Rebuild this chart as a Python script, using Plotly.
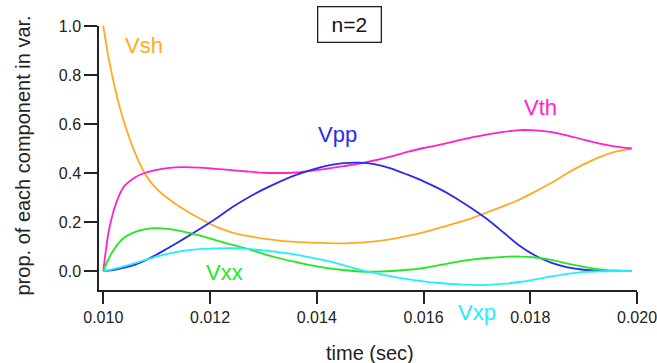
import plotly.graph_objects as go

time = [0.0100, 0.0101, 0.0102, 0.0103, 0.0104, 0.0106, 0.0108, 0.0110, 0.0112, 0.0115,
        0.0118, 0.0121, 0.0124, 0.0127, 0.0130, 0.0133, 0.0136, 0.0139, 0.0142, 0.0145,
        0.0148, 0.0151, 0.0154, 0.0157, 0.0160, 0.0163, 0.0166, 0.0169, 0.0172, 0.0175,
        0.0178, 0.0181, 0.0184, 0.0187, 0.0190, 0.0193, 0.0196, 0.0199]

Vsh = [1.00, 0.87, 0.765, 0.675, 0.60, 0.48, 0.39, 0.335, 0.298, 0.253,
       0.215, 0.182, 0.158, 0.143, 0.132, 0.124, 0.119, 0.116, 0.114, 0.113,
       0.116, 0.121, 0.13, 0.143, 0.158, 0.176, 0.195, 0.215, 0.24, 0.265,
       0.292, 0.325, 0.36, 0.40, 0.435, 0.465, 0.487, 0.50]

Vth = [0.0, 0.16, 0.25, 0.31, 0.348, 0.383, 0.402, 0.413, 0.42, 0.424,
       0.422, 0.417, 0.412, 0.406, 0.401, 0.40, 0.402, 0.409, 0.418, 0.428,
       0.438, 0.452, 0.468, 0.486, 0.502, 0.515, 0.53, 0.545, 0.558, 0.568,
       0.575, 0.574, 0.567, 0.553, 0.536, 0.52, 0.508, 0.50]

Vpp = [0.0, 0.002, 0.005, 0.009, 0.014, 0.026, 0.045, 0.067, 0.092, 0.13,
       0.17, 0.212, 0.258, 0.298, 0.333, 0.364, 0.391, 0.413, 0.43, 0.44,
       0.442, 0.435, 0.418, 0.393, 0.366, 0.335, 0.298, 0.256, 0.21, 0.157,
       0.103, 0.062, 0.033, 0.015, 0.005, 0.001, 0.0, 0.0]

Vxx = [0.0, 0.05, 0.088, 0.117, 0.138, 0.16, 0.171, 0.175, 0.172, 0.161,
       0.145, 0.126, 0.108, 0.09, 0.07, 0.052, 0.037, 0.023, 0.012, 0.004,
       -0.002, -0.003, 0.0, 0.005, 0.012, 0.024, 0.036, 0.046, 0.053, 0.058,
       0.059, 0.055, 0.045, 0.03, 0.017, 0.007, 0.002, 0.0]

Vxp = [0.0, 0.004, 0.009, 0.014, 0.02, 0.032, 0.046, 0.059, 0.07, 0.082,
       0.089, 0.092, 0.093, 0.09, 0.084, 0.076, 0.067, 0.055, 0.041, 0.024,
       0.006, -0.009, -0.022, -0.033, -0.042, -0.049, -0.054, -0.057, -0.057, -0.053,
       -0.045, -0.034, -0.022, -0.012, -0.004, -0.001, 0.0, 0.0]

series_names = ["Vsh", "Vth", "Vpp", "Vxx", "Vxp"]
series_values = [Vsh, Vth, Vpp, Vxx, Vxp]
colors = ["#FFAA22", "#FF22CC", "#2A2AEE", "#22E822", "#22EEFF"]

# label positions: x in data coords, y in paper coords
label_x = [0.01076, 0.01819, 0.01439, 0.01228, 0.01700]
label_y = [0.925, 0.690, 0.590, 0.065, -0.087]

x_ticks = [0.010, 0.012, 0.014, 0.016, 0.018, 0.020]
y_ticks = [0.0, 0.2, 0.4, 0.6, 0.8, 1.0]

FONT = "Liberation Sans, Arial, sans-serif"

fig = go.Figure()
for name, vals, col in zip(series_names, series_values, colors):
    fig.add_trace(go.Scatter(x=time, y=vals, mode="lines", name=name,
                             line=dict(color=col, width=1.8, shape="spline", smoothing=0.7),
                             showlegend=False))

for name, lx, ly, col in zip(series_names, label_x, label_y, colors):
    fig.add_annotation(x=lx, y=ly, xref="x", yref="paper", text=name, showarrow=False,
                       font=dict(family=FONT, size=22, color=col),
                       xanchor="center", yanchor="middle")

fig.add_annotation(x=0.4647, y=1.006, xref="paper", yref="paper", text="n=2",
                   showarrow=False, font=dict(family=FONT, size=21, color="#111"),
                   width=54, height=26,
                   bordercolor="#222", borderwidth=1.3, borderpad=4,
                   xanchor="center", yanchor="middle", bgcolor="white")

# axis titles
fig.add_annotation(x=0.5037, y=-0.238, xref="paper", yref="paper", text="time (sec)",
                   showarrow=False, font=dict(family=FONT, size=20, color="#222"),
                   xanchor="center", yanchor="middle")
fig.add_annotation(x=-0.141, y=0.51, xref="paper", yref="paper",
                   text="prop. of each component in var.", textangle=-90,
                   showarrow=False, font=dict(family=FONT, size=20, color="#222"),
                   xanchor="center", yanchor="middle")

fig.update_layout(
    width=657, height=363,
    margin=dict(l=99, r=20, t=26, b=73),
    plot_bgcolor="white", paper_bgcolor="white",
    font=dict(family=FONT, size=16, color="#222"),
    xaxis=dict(range=[0.00992, 0.02], tickvals=x_ticks, tickformat=".3f", automargin=False,
               showgrid=False, zeroline=False, showline=True, linecolor="#222", linewidth=1.5,
               ticks="outside", ticklen=12, tickwidth=1.5, tickcolor="#222",
               ticklabeloverflow="allow",
               tickfont=dict(size=16)),
    yaxis=dict(range=[-0.0776, 1.0], tickvals=y_ticks, tickformat=".1f", automargin=False,
               showgrid=False, zeroline=False, showline=True, linecolor="#222", linewidth=1.5,
               ticks="outside", ticklen=13, tickwidth=1.5, tickcolor="#222",
               ticklabeloverflow="allow",
               tickfont=dict(size=16)),
)

fig.write_html("out.html")
